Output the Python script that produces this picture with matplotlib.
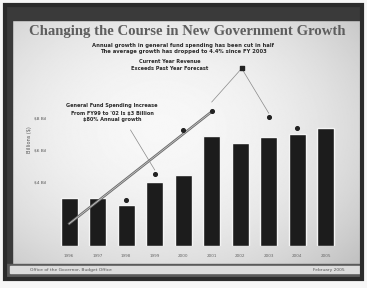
import matplotlib
matplotlib.use("Agg")
import matplotlib.pyplot as plt
import numpy as np

# ── Data ──
YEARS = ["1996", "1997", "1998", "1999", "2000", "2001", "2002", "2003", "2004", "2005"]
SPENDING = [3.0, 3.0, 2.55, 4.0, 4.45, 6.9, 6.45, 6.8, 7.0, 7.4]
# revenue markers (only some years shown)
REV_IDX = [2, 3, 4, 5, 7, 8]
REV_VAL = [2.9, 4.5, 7.25, 8.45, 8.05, 7.4]
TREND_X = [0, 5]
TREND_Y = [1.4, 8.4]
YTICKS = [2, 4, 6, 8]
YTICK_LABELS = ["", "$4 Bil", "$6 Bil", "$8 Bil"]

BAR_COLOR = "#1c1c1c"
TEXT_DARK = "#2a2a2a"
FRAME = "#2b2b2b"

fig = plt.figure(figsize=(3.67, 2.88), dpi=100)
fig.patch.set_facecolor("#f6f6f6")

# ── Slide background ──
bg = fig.add_axes([0, 0, 1, 1])
bg.set_xlim(0, 367)
bg.set_ylim(288, 0)
bg.axis("off")
yy, xx = np.mgrid[0:288, 0:367]
r = np.hypot((xx - 160) / 220.0, (yy - 130) / 170.0)
shade = np.clip(0.97 - 0.14 * r**2, 0.72, 0.97)
bg.imshow(shade, cmap="gray", vmin=0, vmax=1, extent=(6, 362, 278, 6), zorder=0)
# frame and bands
bg.add_patch(plt.Rectangle((5, 5), 357, 274, fill=False, ec=FRAME, lw=3, zorder=2))
bg.add_patch(plt.Rectangle((6, 6), 355, 14, color="#3a3a3a", zorder=1))
bg.add_patch(plt.Rectangle((6, 6), 6, 272, color="#3a3a3a", zorder=1))
bg.add_patch(plt.Rectangle((6, 264), 355, 14, color="#5a5a5a", zorder=1))
bg.add_patch(plt.Rectangle((10, 266), 350, 7, color="#dcdcdc", zorder=1))

# Title and subtitles
bg.text(187, 31, "Changing the Course in New Government Growth",
        ha="center", va="center", fontsize=10.6, family="Liberation Serif",
        fontweight="bold", color="#5e5e5e", zorder=3)
bg.text(183, 45, "Annual growth in general fund spending has been cut in half",
        ha="center", va="center", fontsize=3.8, fontweight="bold",
        color=TEXT_DARK, zorder=3)
bg.text(183, 52, "The average growth has dropped to 4.4% since FY 2003",
        ha="center", va="center", fontsize=3.8, fontweight="bold",
        color=TEXT_DARK, zorder=3)
bg.text(170, 65, "Current Year Revenue\nExceeds Past Year Forecast",
        ha="center", va="center", fontsize=3.6, fontweight="bold",
        color=TEXT_DARK, linespacing=1.5, zorder=3)
bg.text(112, 113, "General Fund Spending Increase\nFrom FY99 to '02 Is $3 Billion\n$80% Annual growth",
        ha="center", va="center", fontsize=3.6, fontweight="bold",
        color=TEXT_DARK, linespacing=1.5, zorder=3)
bg.text(30, 270, "Office of the Governor, Budget Office",
        ha="left", va="center", fontsize=3.2, color="#555555", zorder=3)
bg.text(345, 270, "February 2005",
        ha="right", va="center", fontsize=3.2, color="#555555", zorder=3)
bg.text(30, 140, "Billions ($)", rotation=90, ha="center", va="center",
        fontsize=3.6, color="#555555", zorder=3)

# ── Chart ──
ax = fig.add_axes([55 / 367, 1 - 246 / 288, 285 / 367, 196 / 288])
ax.patch.set_alpha(0)
x = np.arange(len(YEARS))
ax.bar(x, SPENDING, width=0.6, color=BAR_COLOR, edgecolor="#f4f4f4",
       linewidth=1.0, zorder=3)
ax.plot(TREND_X, TREND_Y, color="#6a6a6a", lw=1.8, zorder=4)
ax.plot(TREND_X, TREND_Y, color="#d0d0d0", lw=0.5, zorder=4)
ax.scatter(REV_IDX, REV_VAL, s=7, color="#222222", zorder=5)

# leader lines (in data coords)
ax.plot([2.15, 3.0], [7.25, 4.75], color="#888888", lw=0.5, zorder=4)
ax.plot([6.05, 5.0], [11.1, 9.0], color="#888888", lw=0.5, zorder=4)
ax.plot([6.05, 7.0], [11.1, 8.3], color="#888888", lw=0.5, zorder=4)
ax.scatter([6.05], [11.1], s=6, marker="s", color="#222222", zorder=5)

ax.set_xlim(-0.5, len(YEARS) - 0.5)
ax.set_ylim(0, 12.25)
ax.set_xticks(x)
ax.set_xticklabels(YEARS, fontsize=3.0, color="#666666")
ax.set_yticks(YTICKS)
ax.set_yticklabels(YTICK_LABELS, fontsize=3.2, color="#555555")
ax.tick_params(length=0, pad=6)
for s in ax.spines.values():
    s.set_visible(False)

fig.savefig("out.png", dpi=100, facecolor=fig.get_facecolor())
